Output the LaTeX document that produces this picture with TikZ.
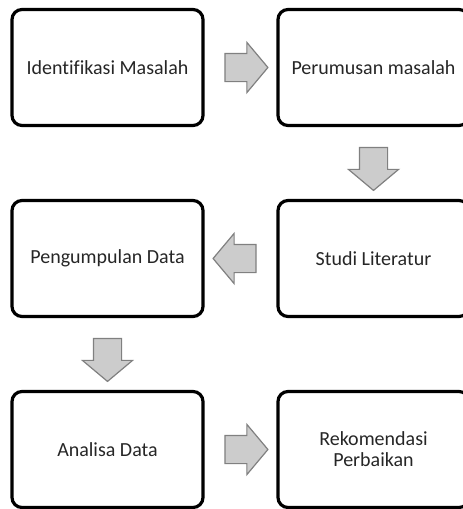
\documentclass[tikz,border=0pt]{standalone}
\usepackage{fontspec}
\setmainfont{Carlito}[Ligatures=NoCommon]
\usetikzlibrary{shapes.arrows, calc}

\begin{document}
\begin{tikzpicture}[x=0.5pt, y=-0.5pt,
        box/.style={draw, line width=1.6pt, rounded corners=5pt, minimum width=95.5pt, minimum height=58pt, align=center, text=black!85, font=\fontsize{10}{10.5}\selectfont},
        blockarrow/.style={single arrow, draw=black!50, fill=black!20, line width=0.6pt, minimum height=21.5pt, single arrow head extend=5.5pt, single arrow tip angle=100, inner xsep=0pt, inner ysep=6.75pt}]
        \useasboundingbox (0, 0) rectangle (462, 509);
        \node[box] (identifikasi) at (107.5, 67.5) {Identifikasi Masalah};
        \node[box] (perumusan) at (373.5, 67.5) {Perumusan masalah};
        \node[box] (studi) at (373.5, 258.5) {Studi Literatur};
        \node[box] (pengumpulan) at (107.5, 258.5) {Pengumpulan Data};
        \node[box] (analisa) at (107.5, 449.5) {Analisa Data};
        \node[box] (rekomendasi) at (373.5, 449.5) {Rekomendasi\\Perbaikan};
        \node[blockarrow] (p1) at ($(identifikasi.east)!0.5!(perumusan.west)$) {};
        \node[blockarrow, rotate=-90] (p2) at ($(perumusan.south)!0.5!(studi.north)$) {};
        \node[blockarrow, rotate=180] (p3) at ($(studi.west)!0.5!(pengumpulan.east)$) {};
        \node[blockarrow, rotate=-90] (p4) at ($(pengumpulan.south)!0.5!(analisa.north)$) {};
        \node[blockarrow] (p5) at ($(analisa.east)!0.5!(rekomendasi.west)$) {};
    \end{tikzpicture}
\end{document}
